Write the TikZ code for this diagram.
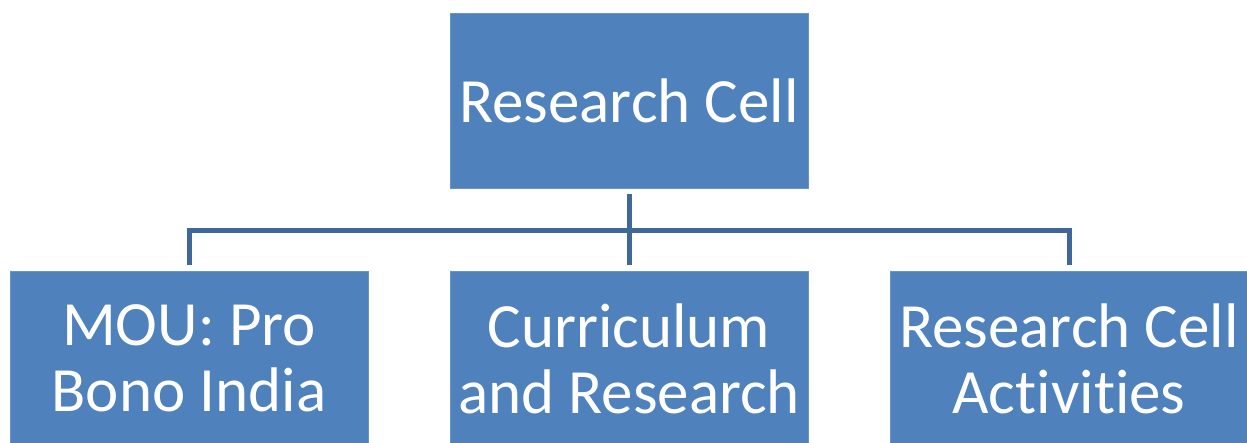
\documentclass[tikz,border=0pt]{standalone}
\usepackage{fontspec}
\setmainfont{Carlito}[RawFeature={-liga;-clig;-calt;-dlig}]
\usepackage{tikz}
\definecolor{cellblue}{HTML}{4F81BD}
\definecolor{linkblue}{HTML}{3F6797}

\begin{document}
\begin{tikzpicture}[x=1pt,y=-1pt]
\tikzstyle{every node}+=[inner sep=0pt]
\tikzstyle{cell}=[fill=cellblue,draw=cellblue!85!white,line width=0.8pt,
  minimum width=358pt,minimum height=175pt,text=white,align=center,
  font=\fontsize{63}{66}\selectfont]
\tikzstyle{link}=[draw=linkblue,line width=5pt]
\useasboundingbox (0,0) rectangle (1247,442);
\node [cell] (rc) at (629,100.5) {Research Cell};
\node [cell] (mou) at (189,358.5) {MOU: Pro\\Bono India};
\node [cell] (cur) at (629,358.5) {Curriculum\\and Research};
\node [cell] (act) at (1069,358.5) {Research Cell\\Activities};
\coordinate (bus) at (629,230);
\draw [link] ([yshift=-6pt]rc.south) -- (bus);
\draw [link] ([yshift=6pt]mou.north) |- (bus) -| ([yshift=6pt]act.north);
\draw [link] (bus) -- ([yshift=6pt]cur.north);
\end{tikzpicture}
\end{document}
